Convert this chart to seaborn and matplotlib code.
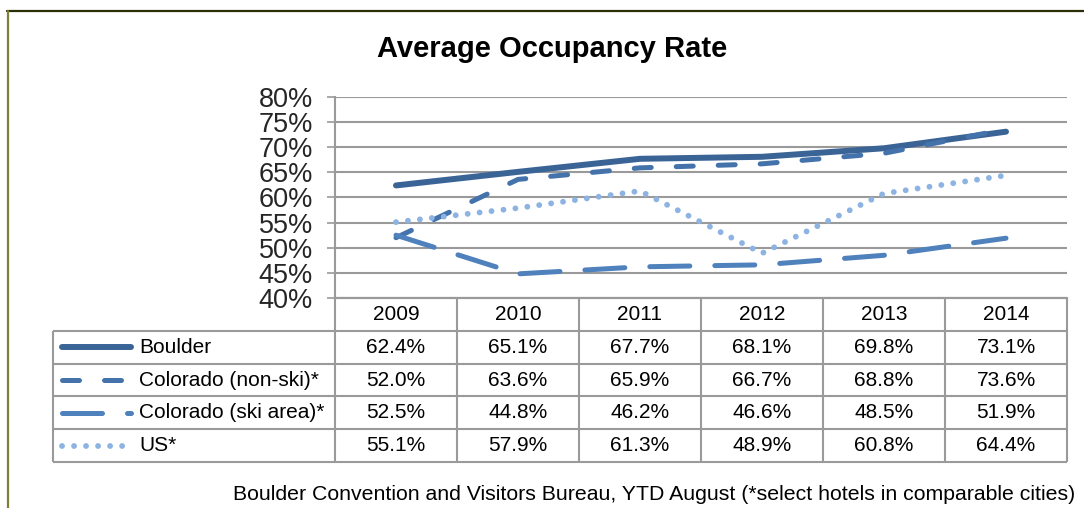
import matplotlib.pyplot as plt
import seaborn as sns
from matplotlib.lines import Line2D

sns.set_theme(style="white")
plt.rcParams['font.family'] = ['Liberation Sans', 'DejaVu Sans']

# data
years = ['2009', '2010', '2011', '2012', '2013', '2014']
boulder = [62.4, 65.1, 67.7, 68.1, 69.8, 73.1]
co_nonski = [52.0, 63.6, 65.9, 66.7, 68.8, 73.6]
co_ski = [52.5, 44.8, 46.2, 46.6, 48.5, 51.9]
us = [55.1, 57.9, 61.3, 48.9, 60.8, 64.4]
names = ['Boulder', 'Colorado (non-ski)*', 'Colorado (ski area)*', 'US*']
yticks = [40, 45, 50, 55, 60, 65, 70, 75, 80]

series = [boulder, co_nonski, co_ski, us]
colors = ['#3b6496', '#4472ab', '#4f81bd', '#8db3e2']
widths = [4.3, 3.6, 3.6, 4.2]
styles = ['-', (0, (3.4, 5.0)), (0, (8, 5)), (0, (0.01, 2.05))]
gridc = '#9a9a9a'

W, H = 1084, 508
fig = plt.figure(figsize=(W / 100, H / 100), dpi=100)

# main plot area
ax = fig.add_axes([335 / W, 1 - 298 / H, (1067 - 335) / W, (298 - 97) / H])
for vals, c, w, s in zip(series, colors, widths, styles):
    sns.lineplot(x=years, y=vals, ax=ax, color=c, lw=w, linestyle=s,
                 dash_capstyle='round', solid_capstyle='round', sort=False)
ax.set_xlim(-0.5, 5.5)
ax.set_ylim(40, 80)
ax.set_yticks(yticks)
ax.set_yticklabels([f"{t}%" for t in yticks])
ax.set_xticks([])
ax.set_xlabel('')
ax.set_ylabel('')
ax.yaxis.grid(True, color=gridc, lw=1.5)
ax.xaxis.grid(False)
for k in ['top', 'right']:
    ax.spines[k].set_visible(False)
ax.spines['left'].set_color(gridc)
ax.spines['left'].set_linewidth(1.5)
ax.spines['bottom'].set_color(gridc)
ax.spines['bottom'].set_linewidth(1.5)
ax.tick_params(axis='y', length=6, width=1.2, color=gridc, pad=10,
               labelsize=19.5, left=True)

# data table below
tab = fig.add_axes([53 / W, 1 - 462 / H, (1067 - 53) / W, (462 - 298) / H])
x0 = -0.5 - 282 / 122
tab.set_xlim(x0, 5.5)
tab.set_ylim(5, 0)
tab.axis('off')
tab.vlines([i - 0.5 for i in range(len(years) + 1)], 0, 5, color=gridc, lw=1.5, clip_on=False)
tab.vlines(x0, 1, 5, color=gridc, lw=1.5, clip_on=False)
tab.hlines([1, 2, 3, 4, 5], x0, 5.5, color=gridc, lw=1.5, clip_on=False)
tab.hlines(0, -0.5, 5.5, color=gridc, lw=1.5, clip_on=False)

for i, y in enumerate(years):
    tab.text(i, 0.5, y, ha='center', va='center', fontsize=15, color='black')

kx0 = x0 + 9 / 122
kx1 = x0 + 78 / 122
for r, (name, vals, c, w, s) in enumerate(zip(names, series, colors, widths, styles)):
    yy = r + 1.5
    tab.plot([kx0, kx1], [yy, yy], color=c, lw=w, linestyle=s,
             dash_capstyle='round', solid_capstyle='round')
    tab.text(x0 + 86 / 122, yy, name, ha='left', va='center', fontsize=15, color='black')
    for i, v in enumerate(vals):
        tab.text(i, yy, f"{v:.1f}%", ha='center', va='center', fontsize=15, color='black')

fig.text(552 / W, 1 - 49 / H, 'Average Occupancy Rate', ha='center', va='center',
         fontsize=21, fontweight='bold', color='black')
fig.text(1075 / W, 1 - 494 / H,
         'Boulder Convention and Visitors Bureau, YTD August (*select hotels in comparable cities)',
         ha='right', va='center', fontsize=15.3, color='black')

# outer frame (top and left)
fig.add_artist(Line2D([7 / W, 1], [1 - 10.5 / H, 1 - 10.5 / H], color='#2a2d05', lw=1.6))
fig.add_artist(Line2D([7.5 / W, 7.5 / W], [0, 1 - 10.5 / H], color='#7f7f3a', lw=1.6))

fig.savefig('out.png', dpi=100)
